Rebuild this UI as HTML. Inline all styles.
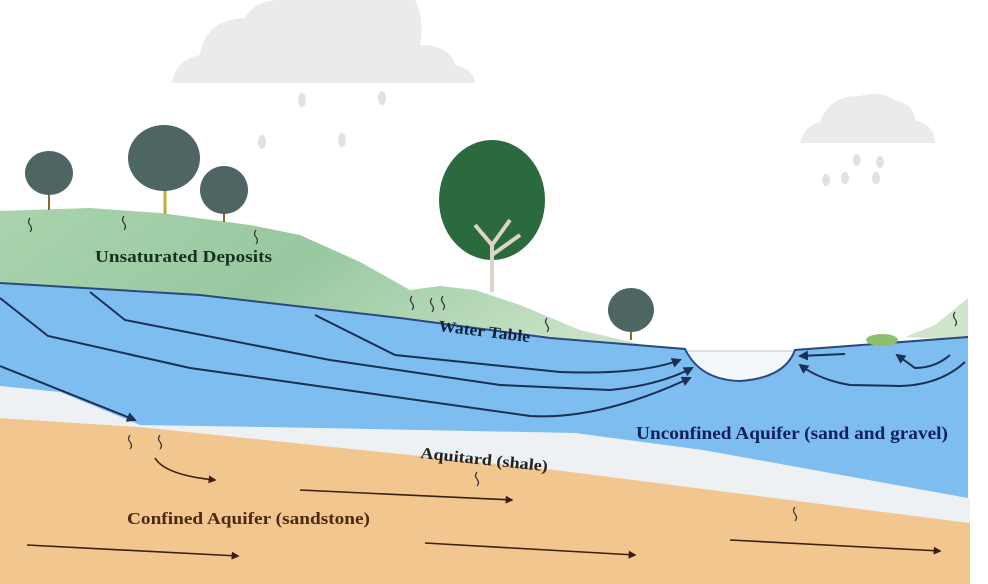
<!DOCTYPE html>
<html><head><meta charset="utf-8"><style>
html,body{margin:0;padding:0;background:#fff;}
svg{display:block}
text{font-family:"Liberation Serif",serif;font-weight:bold;}
</style></head><body>
<svg width="988" height="584" viewBox="0 0 988 584" xmlns="http://www.w3.org/2000/svg">
<defs>
<linearGradient id="g" x1="0" y1="0" x2="1" y2="0.3">
<stop offset="0" stop-color="#a9d4ad"/><stop offset="0.5" stop-color="#98c8a0"/><stop offset="1" stop-color="#c8e2c6"/>
</linearGradient>
<marker id="a" viewBox="0 0 10 10" refX="8" refY="5" markerWidth="5" markerHeight="5" orient="auto"><path d="M0,0 L10,5 L0,10 z" fill="#1c2f55"/></marker>
<marker id="b" viewBox="0 0 10 10" refX="8" refY="5" markerWidth="5" markerHeight="5" orient="auto"><path d="M0,0 L10,5 L0,10 z" fill="#3a2010"/></marker>
</defs>
<rect width="988" height="584" fill="#fff"/>
<g fill="#ebebeb">
<path d="M172,83 Q175,60 200,55 Q205,20 245,18 Q255,0 280,0 L415,0 Q425,20 420,45 Q450,45 455,65 Q475,70 475,83 Z"/>
<path d="M800,143 Q805,125 820,122 Q830,95 860,96 Q880,90 895,100 Q915,105 915,120 Q935,125 935,143 Z"/>
</g>
<g fill="#e2e2e2">
<ellipse cx="302" cy="100" rx="4" ry="7"/><ellipse cx="382" cy="98" rx="4" ry="7"/>
<ellipse cx="262" cy="142" rx="4" ry="7"/><ellipse cx="342" cy="140" rx="4" ry="7"/>
<ellipse cx="857" cy="160" rx="4" ry="6"/><ellipse cx="880" cy="162" rx="4" ry="6"/>
<ellipse cx="845" cy="178" rx="4" ry="6"/><ellipse cx="876" cy="178" rx="4" ry="6"/><ellipse cx="826" cy="180" rx="4" ry="6"/>
</g>
<path d="M0,211 L90,208 L160,213 L250,225 L300,235 L360,262 L410,290 L440,286 L475,290 L520,305 L580,330 L640,344 L690,350 L690,360 L0,300 Z" fill="url(#g)"/>
<path d="M905,337 L935,325 L968,298 L968,340 Z" fill="#cfe5cc"/>
<path d="M0,418 L140,427 L556,470 L970,523 L970,584 L0,584 Z" fill="#f2c68f"/>
<path d="M0,386 L60,392 L140,425 L320,428 L575,433 L703,450 L970,498 L970,523 L556,470 L140,427 L0,418 Z" fill="#eef1f3"/>
<path d="M0,283 L200,295 L400,318 L550,338 L685,349 Q700,380 740,381 Q785,378 795,350 L968,337 L968,498 L703,450 L575,433 L320,428 L140,425 L60,392 L0,386 Z" fill="#7dbdf0"/>
<path d="M685,350 Q700,380 740,381 Q785,378 795,350 Z" fill="#f3f8fa"/>
<line x1="685" y1="351" x2="795" y2="351" stroke="#ccc" stroke-width="1"/>
<path d="M0,283 L200,295 L400,318 L550,338 L685,349 Q700,380 740,381 Q785,378 795,350 L968,337" fill="none" stroke="#2a4a80" stroke-width="2"/>
<g fill="none" stroke="#1c2f55" stroke-width="2" marker-end="url(#a)">
<path d="M0,298 L48,336 L190,368 L360,392 L530,416 Q600,420 690,378"/>
<path d="M90,292 L125,320 L330,360 L500,385 L610,390 Q660,385 692,368"/>
<path d="M315,315 L395,355 L560,372 Q640,375 680,360"/>
<path d="M0,366 L135,420"/>
<path d="M845,354 L800,356"/>
<path d="M950,355 Q935,368 915,368 L897,355"/>
<path d="M965,362 Q940,385 900,386 L850,385 Q820,380 800,365"/>
</g>
<g fill="none" stroke="#3a2010" stroke-width="1.6" marker-end="url(#b)">
<path d="M155,458 Q165,475 215,480"/>
<path d="M300,490 L512,500"/>
<path d="M27,545 L238,556"/>
<path d="M425,543 L635,555"/>
<path d="M730,540 L940,551"/>
</g>
<g fill="none" stroke="#333" stroke-width="1.2">
<path d="M30,218 q-3,4 0,7 q3,4 0,7"/><path d="M124,216 q-3,4 0,7 q3,4 0,7"/><path d="M256,230 q-3,4 0,7 q3,4 0,7"/>
<path d="M412,296 q-3,4 0,7 q3,4 0,7"/><path d="M432,298 q-3,4 0,7 q3,4 0,7"/><path d="M443,296 q-3,4 0,7 q3,4 0,7"/>
<path d="M547,318 q-3,4 0,7 q3,4 0,7"/><path d="M955,312 q-3,4 0,7 q3,4 0,7"/>
<path d="M130,435 q-3,4 0,7 q3,4 0,7"/><path d="M160,435 q-3,4 0,7 q3,4 0,7"/>
<path d="M477,472 q-3,4 0,7 q3,4 0,7"/><path d="M795,507 q-3,4 0,7 q3,4 0,7"/>
</g>
<g>
<line x1="49" y1="185" x2="49" y2="210" stroke="#8a6a2a" stroke-width="2"/>
<ellipse cx="49" cy="173" rx="24" ry="22" fill="#4d6563"/>
<line x1="165" y1="175" x2="165" y2="214" stroke="#c9a63a" stroke-width="3"/>
<ellipse cx="164" cy="158" rx="36" ry="33" fill="#4d6563"/>
<line x1="224" y1="195" x2="224" y2="222" stroke="#8a6a2a" stroke-width="2"/>
<ellipse cx="224" cy="190" rx="24" ry="24" fill="#4d6563"/>
<line x1="631" y1="318" x2="631" y2="340" stroke="#8a6a2a" stroke-width="2"/>
<ellipse cx="631" cy="310" rx="23" ry="22" fill="#4d6563"/>
<ellipse cx="492" cy="200" rx="53" ry="60" fill="#2a6a3c"/>
<path d="M492,292 L492,245 L475,225 M492,245 L510,220 M492,255 L520,235" stroke="#ddd3c8" stroke-width="4" fill="none"/>
<ellipse cx="882" cy="340" rx="16" ry="6" fill="#8cc06a"/>
</g>
<text x="95" y="262" font-size="17" fill="#17301f" textLength="177" lengthAdjust="spacingAndGlyphs">Unsaturated Deposits</text>
<text x="438" y="331" font-size="16" fill="#10203a" transform="rotate(7 438 331)" textLength="92" lengthAdjust="spacingAndGlyphs">Water Table</text>
<text x="636" y="439" font-size="18" fill="#10205a" textLength="312" lengthAdjust="spacingAndGlyphs">Unconfined Aquifer (sand and gravel)</text>
<text x="420" y="458" font-size="16" fill="#222" transform="rotate(6 420 458)" textLength="128" lengthAdjust="spacingAndGlyphs">Aquitard (shale)</text>
<text x="127" y="524" font-size="17" fill="#4a2a10" textLength="243" lengthAdjust="spacingAndGlyphs">Confined Aquifer (sandstone)</text>
</svg>
</body></html>
